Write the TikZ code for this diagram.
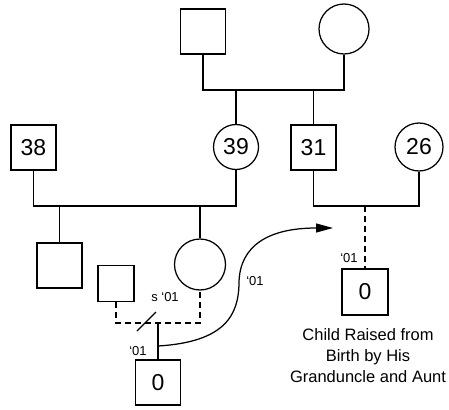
\documentclass[tikz,border=0pt]{standalone}
\usepackage{fontspec}
\setmainfont{Liberation Sans}
\usetikzlibrary{arrows.meta}
\begin{document}
\begin{tikzpicture}[x=1pt,y=-1pt,
  line width=1.25pt,
  male/.style={draw,rectangle,minimum size=#1,inner sep=0pt,font=\fontsize{23}{26}\selectfont},
  female/.style={draw,circle,minimum size=#1,inner sep=0pt,font=\fontsize{23}{26}\selectfont},
  lbl/.style={font=\fontsize{13}{15}\selectfont,inner sep=0pt},
  dsh/.style={dash pattern=on 6pt off 4pt}]
\useasboundingbox (0,0) rectangle (449,409);
% generation 1
\node[male=45] (gf) at (203,31.5) {};
\node[female=50] (gm) at (344,29) {};
% generation 2
\node[male=45] (n38) at (33.5,147.5) {38};
\node[female=45] (n39) at (236,147) {39};
\node[male=45] (n31) at (313.5,147.5) {31};
\node[female=48] (n26) at (419,147) {26};
% generation 3
\node[male=45] (s1) at (59.5,265.5) {};
\node[female=51] (mom) at (200,264.5) {};
\node[male=36] (dad) at (116,283.5) {};
% generation 4
\node[male=45] (kid) at (158,382.5) {0};
\node[male=46] (kid2) at (365,292) {0};
% line levels
\coordinate (m1) at (0,90);
\coordinate (m2) at (0,206);
\coordinate (m3) at (0,323);
% marriage lines
\draw (gf.south) -- (gf.south |- m1) -- (gm.south |- m1) -- (gm.south);
\draw (n39.north |- m1) -- (n39.north);
\draw (n31.north |- m1) -- (n31.north);
\draw (n38.south) -- (n38.south |- m2) -- (n39.south |- m2) -- (n39.south);
\draw (s1.north |- m2) -- (s1.north);
\draw (mom.north |- m2) -- (mom.north);
\draw (n31.south) -- (n31.south |- m2) -- (n26.south |- m2) -- (n26.south);
\draw[dsh] (kid2.north |- m2) -- (kid2.north);
% separated couple
\draw[dsh] (dad.south) -- (dad.south |- m3) -- (mom.south |- m3) -- (mom.south);
\draw (kid.north |- m3) -- (kid.north);
\coordinate (sl) at (146.5,321.5);
\draw ([shift={(-9.5,9.5)}]sl) -- ([shift={(9.5,-9.5)}]sl);
% adoption arrow
\coordinate (cs) at (158,346);
\coordinate (ae) at (333,228);
\draw[-{Stealth[length=17pt,width=9pt,inset=0pt]}] (cs) .. controls (225,342) and (239,315) .. (239,282) .. controls (240,246) and (268,228) .. (ae);
% labels
\node[lbl] (ls) at (165,297) {s ‘01};
\node[lbl] (l1) at (138,351) {‘01};
\node[lbl] (l2) at (255,281) {‘01};
\node[lbl] (l3) at (349,258) {‘01};
\node[font=\fontsize{16.5}{21}\selectfont,align=center,inner sep=0pt] (cap) at (368,356) {Child Raised from\\Birth by His\\Granduncle and Aunt};
\end{tikzpicture}
\end{document}
